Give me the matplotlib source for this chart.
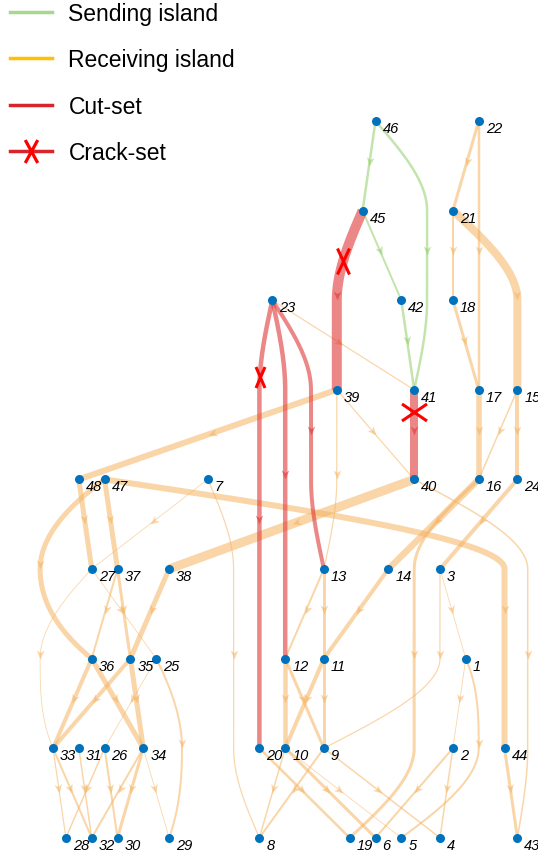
import numpy as np
import matplotlib.pyplot as plt
from matplotlib.path import Path
from matplotlib.markers import MarkerStyle
from matplotlib.transforms import Affine2D
from matplotlib.lines import Line2D

plt.rcParams['font.family'] = ['Liberation Sans', 'DejaVu Sans']

# buses of the layered graph: column and layer of each bus
bus = [46, 22, 45, 21, 23, 42, 18, 39, 41, 17, 15, 48, 47, 7, 40, 16, 24,
       27, 37, 38, 13, 14, 3, 36, 35, 25, 12, 11, 1,
       33, 31, 26, 34, 20, 10, 9, 2, 44,
       28, 32, 30, 29, 8, 19, 6, 5, 4, 43]
col = [25, 33, 24, 31, 17, 27, 31, 22, 28, 33, 36, 2, 4, 12, 28, 33, 36,
       3, 5, 9, 21, 26, 30, 3, 6, 8, 18, 21, 32,
       0, 2, 4, 7, 16, 18, 21, 31, 35,
       1, 3, 5, 9, 16, 23, 25, 27, 30, 36]
layer = [0, 0, 1, 1, 2, 2, 2, 3, 3, 3, 3, 4, 4, 4, 4, 4, 4,
         5, 5, 5, 5, 5, 5, 6, 6, 6, 6, 6, 6,
         7, 7, 7, 7, 7, 7, 7, 7, 7,
         8, 8, 8, 8, 8, 8, 8, 8, 8, 8]

# branches (from, to, flow)
sending = [(46, 45, 2.5), (46, 41, 2.5), (45, 42, 2), (42, 41, 2.5)]
cutset = [(45, 39, 10), (41, 40, 8), (23, 20, 4.5), (23, 12, 4.5), (23, 13, 4)]
receiving = [(22, 21, 3), (22, 17, 2.5), (21, 18, 2), (21, 15, 8), (18, 17, 3),
             (17, 16, 5.5), (15, 24, 4), (15, 16, 1.5), (23, 41, 1.2), (39, 40, 1.2),
             (39, 13, 1.2), (39, 48, 6), (40, 38, 9), (40, 43, 1.5), (47, 44, 6),
             (47, 36, 5), (47, 37, 5), (48, 27, 5), (7, 27, 0.8), (7, 8, 1.2),
             (27, 25, 0.8), (27, 33, 0.8), (37, 36, 2), (37, 35, 3), (38, 35, 5),
             (13, 12, 2), (13, 11, 3), (14, 11, 4), (16, 14, 6.5), (16, 19, 3),
             (24, 3, 4), (3, 1, 0.8), (3, 9, 1.2), (36, 33, 4), (36, 34, 5),
             (35, 33, 4), (35, 34, 5), (25, 29, 2), (25, 26, 0.8), (12, 10, 4.5),
             (12, 9, 3), (11, 10, 4), (11, 9, 3), (1, 2, 0.8), (1, 5, 2),
             (33, 28, 1.2), (33, 32, 2), (31, 32, 1.5), (26, 28, 1.5), (26, 30, 2),
             (34, 32, 2), (34, 30, 3), (34, 29, 0.8), (20, 19, 2.5), (10, 8, 1.5),
             (10, 6, 3), (10, 5, 0.8), (9, 8, 2), (9, 4, 1.5), (2, 6, 2),
             (2, 4, 1.5), (44, 43, 3)]

# columns of the bend points for branches that span several layers
bends = {(46, 41): [29, 29], (45, 39): [22], (23, 20): [16, 16, 16, 16],
         (23, 12): [18, 18, 18], (23, 13): [20, 20], (22, 17): [33, 33],
         (21, 15): [36], (39, 13): [22], (40, 43): [36.8, 36.8, 36.8],
         (47, 44): [35, 35], (47, 36): [-1], (7, 8): [14, 14, 14],
         (27, 33): [-1], (16, 19): [28, 28, 28], (3, 9): [30], (25, 29): [10],
         (1, 5): [33]}

# crack-set: branch and position along it
cracks = [(45, 39, 0.28), (23, 20, 0.172), (41, 40, 0.25)]
crack_shape = [(12, 26), (9, 21), (25, 17)]

pos = {b: (c, l) for b, c, l in zip(bus, col, layer)}


def pchip(ys, xs, yq):
    ys = np.asarray(ys, float)
    xs = np.asarray(xs, float)
    h = np.diff(ys)
    d = np.diff(xs) / h
    n = len(xs)
    m = np.zeros(n)
    if n == 2:
        m[:] = d[0]
    else:
        for k in range(1, n - 1):
            if d[k - 1] * d[k] <= 0:
                m[k] = 0
            else:
                w1 = 2 * h[k] + h[k - 1]
                w2 = h[k] + 2 * h[k - 1]
                m[k] = (w1 + w2) / (w1 / d[k - 1] + w2 / d[k])
        for i, (h0, h1, d0, d1) in [(0, (h[0], h[1], d[0], d[1])),
                                    (n - 1, (h[-1], h[-2], d[-1], d[-2]))]:
            e = ((2 * h0 + h1) * d0 - h0 * d1) / (h0 + h1)
            if np.sign(e) != np.sign(d0):
                e = 0
            elif np.sign(d0) != np.sign(d1) and abs(e) > 3 * abs(d0):
                e = 3 * d0
            m[i] = e
    out = np.empty_like(yq)
    for j, y in enumerate(yq):
        k = min(np.searchsorted(ys, y, side='right') - 1, n - 2)
        t = (y - ys[k]) / h[k]
        h00 = 2 * t**3 - 3 * t**2 + 1
        h10 = t**3 - 2 * t**2 + t
        h01 = -2 * t**3 + 3 * t**2
        h11 = t**3 - t**2
        out[j] = h00 * xs[k] + h10 * h[k] * m[k] + h01 * xs[k + 1] + h11 * h[k] * m[k + 1]
    return out


def edge_curve(s, t, frac=None):
    (x0, y0), (x1, y1) = pos[s], pos[t]
    xs = [x0] + bends.get((s, t), []) + [x1]
    ys = np.arange(y0, y1 + 1)
    if frac is None:
        yq = np.linspace(y0, y1, 300)
    else:
        yq = np.array([y0 + frac * (y1 - y0)])
    return pchip(ys, xs, yq), yq


fig = plt.figure(figsize=(5.38, 8.62), dpi=100)
ax = fig.add_axes([0, 0, 1, 1])
ax.set_xlim(-53 / 12.9, (538 - 53) / 12.9)
ax.set_ylim((862 - 122) / 89.6, -122 / 89.6)
ax.axis('off')

arrow_path = Path([(0, 0), (-1, 0.42), (-0.72, 0), (-1, -0.42), (0, 0)],
                  [Path.MOVETO, Path.LINETO, Path.LINETO, Path.LINETO, Path.CLOSEPOLY])

groups = [(receiving, '#F5B461', 0.55, 2),
          (sending, '#93CF6B', 0.55, 3),
          (cutset, '#E03838', 0.6, 4)]

for edges, color, alpha, z in groups:
    for s, t, w in edges:
        xs, ys = edge_curve(s, t)
        ax.plot(xs, ys, color=color, lw=w * 0.72, alpha=alpha,
                solid_capstyle='butt', zorder=z)
        # arrow at middle of the branch
        xm, ym = edge_curve(s, t, 0.5)
        xa, ya = edge_curve(s, t, 0.49)
        p1 = ax.transData.transform((xa[0], ya[0]))
        p2 = ax.transData.transform((xm[0], ym[0]))
        ang = np.degrees(np.arctan2(p2[1] - p1[1], p2[0] - p1[0]))
        mk = MarkerStyle(arrow_path, transform=Affine2D().rotate_deg(ang))
        ax.plot(xm, ym, marker=mk, ms=13, color=color, alpha=alpha,
                mew=0, linestyle='none', zorder=z)

# crack marks
for (s, t, f), (w, h) in zip(cracks, crack_shape):
    xc, yc = edge_curve(s, t, f)
    xpath = Path([(-w / 2, -h / 2), (w / 2, h / 2), (-w / 2, h / 2), (w / 2, -h / 2)],
                 [Path.MOVETO, Path.LINETO, Path.MOVETO, Path.LINETO])
    ax.plot(xc, yc, marker=xpath, ms=max(w, h) * 0.72, mec='#FF0000',
            mfc='none', mew=2.2, linestyle='none', zorder=8)

# buses
ax.plot(col, layer, 'o', color='#0072BD', ms=6.5, mew=0, zorder=6)
for b, c, l in zip(bus, col, layer):
    ax.annotate(str(b), (c, l), xytext=(5, -5), textcoords='offset points',
                ha='left', va='center', fontsize=10.5, style='italic', zorder=7)

xleg = Path([(-6, -11), (6, 11), (-6, 11), (6, -11)],
            [Path.MOVETO, Path.LINETO, Path.MOVETO, Path.LINETO])
handles = [Line2D([], [], color='#A8D88C', lw=2.5),
           Line2D([], [], color='#FFC000', lw=2.5),
           Line2D([], [], color='#D7262B', lw=2.5),
           Line2D([], [], color='#D7262B', lw=2.5, marker=xleg, ms=16.5,
                  mec='#FF0000', mew=2.3)]
labels = ['Sending island', 'Receiving island', 'Cut-set', 'Crack-set']
fig.legend(handles, labels, loc='upper left', bbox_to_anchor=(10 / 538, 0.997),
           frameon=False, fontsize=16.5, handlelength=1.85, handletextpad=0.7,
           labelspacing=1.03, borderpad=0, borderaxespad=0)

fig.savefig('out.png', dpi=100)
